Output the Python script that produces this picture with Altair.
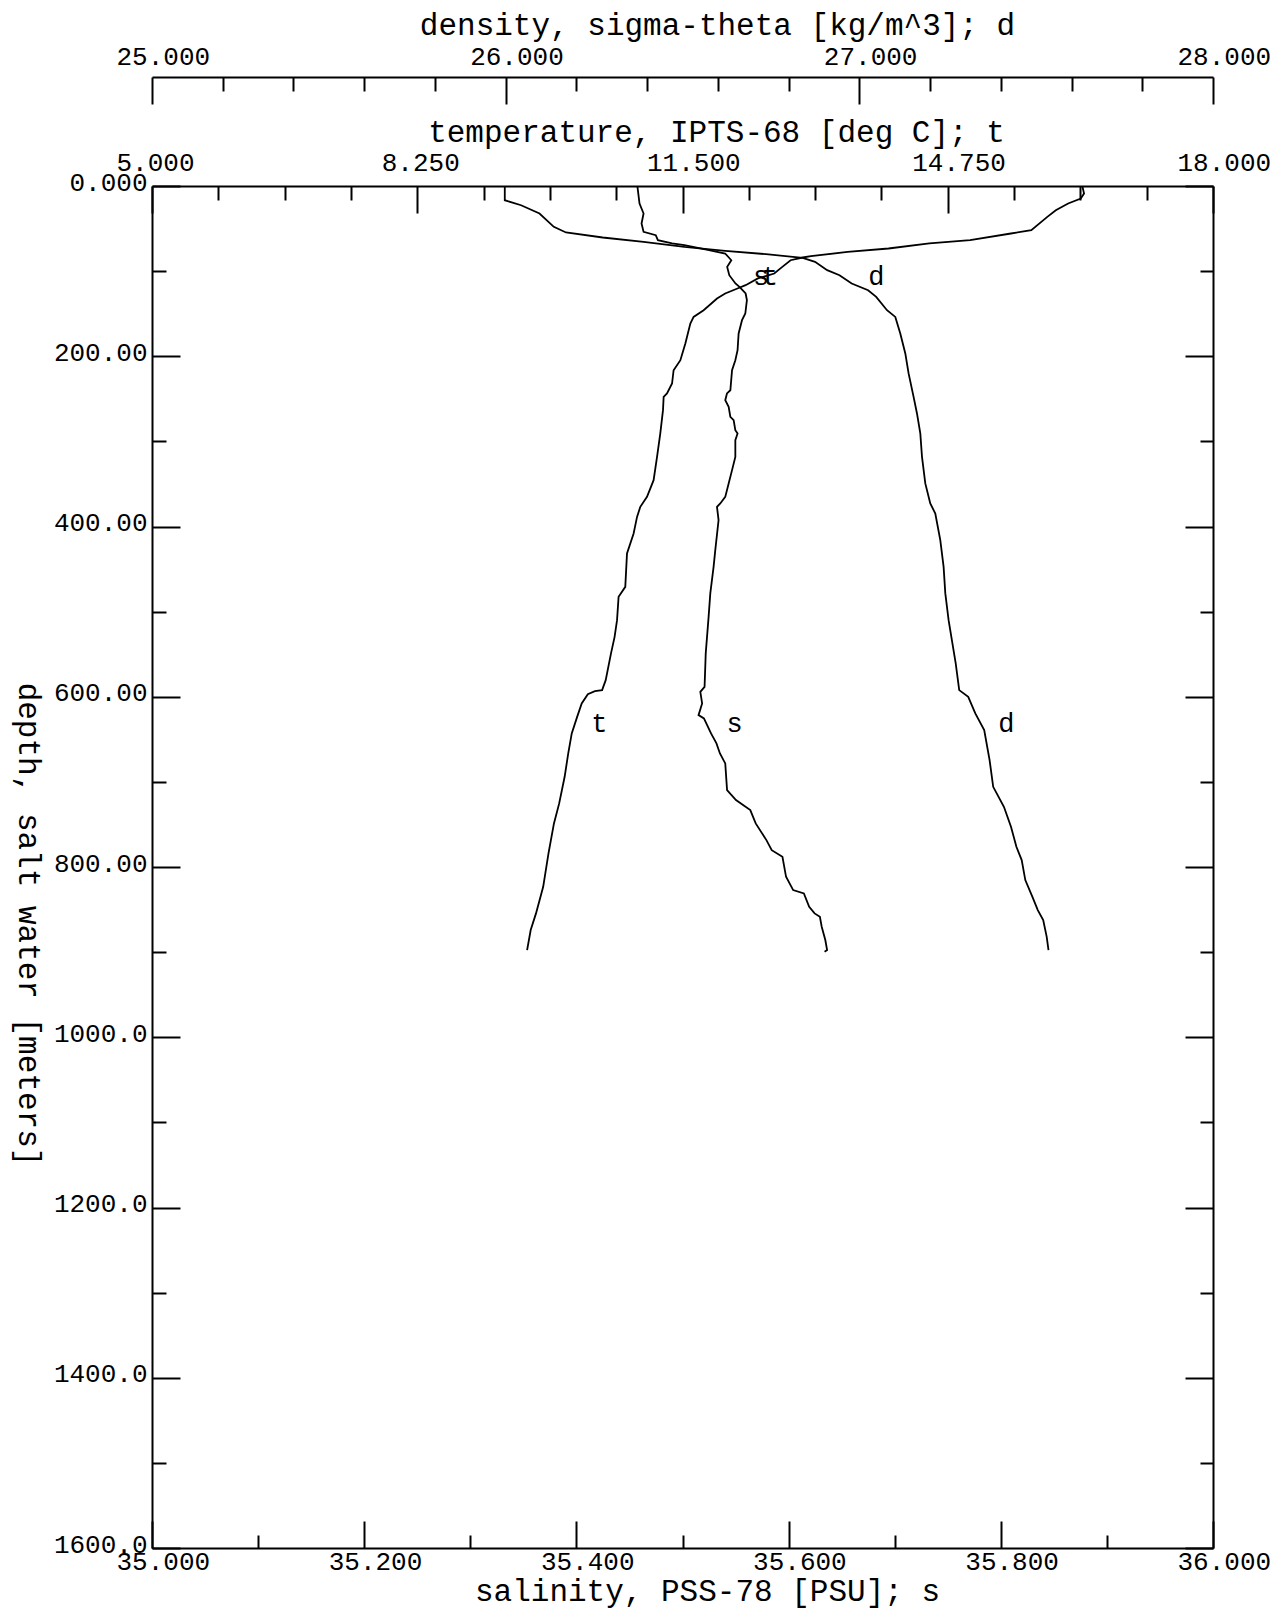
import altair as alt
import pandas as pd

FONT = "Liberation Mono"

# ---------------- profile data ----------------
# temperature, IPTS-68 [deg C]
T_DEPTH = [0.5, 8.8, 14.7, 20.6, 28.4, 36.3, 51.9, 55.8, 63.7, 67.5, 73.4, 77.4, 82.5, 84.0, 87.2,
           95.0, 102.8, 108.6, 116.5, 120.4, 126.3, 132.1, 145.9, 153.8, 161.5, 185.0, 204.6, 216.4,
           232.0, 243.7, 247.7, 263.3, 290.7, 318.2, 345.6, 365.2, 376.9, 388.7, 408.2, 431.7, 470.9,
           482.6, 510.0, 529.6, 549.1, 580.5, 592.2, 593.4, 597.0, 607.8, 623.6, 643.1, 666.6, 694.0,
           725.3, 748.8, 784.0, 823.3, 854.5, 874.1, 897.6]
T_VAL = [16.40, 16.42, 16.38, 16.225, 16.074, 15.97, 15.774, 15.524, 15.024, 14.524, 14.024, 13.523,
         13.074, 12.973, 12.824, 12.723, 12.624, 12.424, 12.273, 12.173, 12.023, 11.923, 11.759, 11.636,
         11.596, 11.535, 11.474, 11.391, 11.372, 11.310, 11.269, 11.261, 11.228, 11.188, 11.146, 11.065,
         10.983, 10.943, 10.901, 10.820, 10.799, 10.717, 10.698, 10.668, 10.624, 10.559, 10.515, 10.427,
         10.340, 10.265, 10.209, 10.143, 10.100, 10.056, 9.989, 9.925, 9.858, 9.793, 9.705, 9.640, 9.596]

# salinity, PSS-78 [PSU]
S_DEPTH = [0.5, 20.6, 32.3, 44.0, 53.9, 57.8, 63.7, 67.5, 69.5, 75.4, 79.3, 87.2, 95.0, 104.8, 114.5,
           118.5, 126.3, 134.1, 149.8, 157.6, 173.2, 192.9, 204.6, 216.4, 239.9, 243.7, 251.6, 259.5,
           271.2, 275.1, 286.8, 290.7, 298.6, 318.2, 333.8, 349.4, 365.2, 372.9, 376.9, 392.5, 427.8,
           447.4, 478.6, 506.1, 549.1, 588.3, 594.2, 607.8, 621.6, 625.5, 643.1, 654.8, 666.6, 678.3,
           709.7, 721.4, 733.2, 748.8, 768.4, 780.2, 788.0, 811.5, 827.1, 831.0, 846.8, 854.5, 858.5,
           870.2, 885.8, 897.6, 899.6]
S_VAL = [35.4575, 35.4595, 35.4633, 35.4614, 35.4633, 35.4748, 35.4768, 35.4902, 35.5018, 35.5249,
         35.5402, 35.5460, 35.5421, 35.5441, 35.5499, 35.5537, 35.5595, 35.5607, 35.5592, 35.5561,
         35.5529, 35.5519, 35.5498, 35.5467, 35.5451, 35.5419, 35.5403, 35.5435, 35.5451, 35.5482,
         35.5498, 35.5519, 35.5498, 35.5498, 35.5467, 35.5435, 35.5403, 35.5356, 35.5325, 35.5340,
         35.5309, 35.5293, 35.5262, 35.5246, 35.5219, 35.5208, 35.5168, 35.5185, 35.5151, 35.5202,
         35.5269, 35.5320, 35.5353, 35.5403, 35.5420, 35.5504, 35.5639, 35.5690, 35.5791, 35.5841,
         35.5942, 35.5976, 35.6043, 35.6144, 35.6194, 35.6245, 35.6295, 35.6312, 35.6346, 35.6363,
         35.6339]

# density, sigma-theta [kg/m^3]
D_DEPTH = [0.5, 16.7, 22.6, 32.3, 48.0, 54.6, 60.5, 65.7, 71.5, 76.2, 80.1, 84.5, 89.1, 98.9, 104.8,
           114.5, 122.4, 130.3, 145.9, 153.8, 173.2, 196.7, 220.2, 247.7, 267.2, 290.7, 318.2, 349.4,
           372.9, 384.7, 416.0, 447.4, 478.6, 510.0, 560.9, 592.2, 600.1, 619.6, 639.2, 674.4, 705.8,
           729.3, 752.8, 776.3, 791.9, 815.4, 835.0, 850.6, 862.4, 882.0, 897.6]
D_VAL = [25.9975, 25.9975, 26.0436, 26.0957, 26.1361, 26.1706, 26.2744, 26.3900, 26.5054, 26.6207,
         26.7361, 26.8399, 26.8747, 26.9091, 26.9439, 26.9784, 27.0248, 27.0477, 27.0782, 27.1017,
         27.1158, 27.1300, 27.1393, 27.1534, 27.1630, 27.1724, 27.1772, 27.1865, 27.2006, 27.2148,
         27.2289, 27.2383, 27.2431, 27.2524, 27.2725, 27.2824, 27.3079, 27.3279, 27.3531, 27.3683,
         27.3785, 27.4088, 27.4288, 27.4441, 27.4591, 27.4693, 27.4894, 27.5046, 27.5199, 27.5298,
         27.5349]

# curve letters (value, depth)
T_MARK_VAL = [12.57, 10.48]
S_MARK_VAL = [35.574, 35.549]
D_MARK_VAL = [27.048, 27.4155]
MARK_DEPTH = [106.5, 632.0]

# ---------------- axes: ticks and labels ----------------
SAL_TICKS = [35.0, 35.1, 35.2, 35.3, 35.4, 35.5, 35.6, 35.7, 35.8, 35.9, 36.0]
SAL_MAJOR = [35.0, 35.2, 35.4, 35.6, 35.8, 36.0]
SAL_LABELS = ["35.000", "35.200", "35.400", "35.600", "35.800", "36.000"]

TEMP_TICKS = [5.0, 5.8125, 6.625, 7.4375, 8.25, 9.0625, 9.875, 10.6875, 11.5, 12.3125, 13.125,
              13.9375, 14.75, 15.5625, 16.375, 17.1875, 18.0]
TEMP_MAJOR = [5.0, 8.25, 11.5, 14.75, 18.0]
TEMP_LABELS = ["5.000", "8.250", "11.500", "14.750", "18.000"]

DENS_TICKS = [25.0, 25.2, 25.4, 25.6, 25.8, 26.0, 26.2, 26.4, 26.6, 26.8, 27.0, 27.2, 27.4, 27.6,
              27.8, 28.0]
DENS_MAJOR = [25.0, 26.0, 27.0, 28.0]
DENS_LABELS = ["25.000", "26.000", "27.000", "28.000"]

DEPTH_TICKS = [0, 100, 200, 300, 400, 500, 600, 700, 800, 900, 1000, 1100, 1200, 1300, 1400, 1500, 1600]
DEPTH_MAJOR = [0, 200, 400, 600, 800, 1000, 1200, 1400, 1600]
DEPTH_LABELS = ["0.000", "200.00", "400.00", "600.00", "800.00", "1000.0", "1200.0", "1400.0", "1600.0"]


def major_test(majors):
    return " || ".join(f"abs(datum.value - ({v})) < 1e-6" for v in majors)


def tick_size(majors, major_len, minor_len):
    return {"expr": f"({major_test(majors)}) ? {-major_len} : {-minor_len}"}


def label_expr(majors, labels):
    e = "''"
    for v, l in reversed(list(zip(majors, labels))):
        e = f"abs(datum.value - ({v})) < 1e-6 ? '{l}' : ({e})"
    return e


COMMON = dict(
    labelFont=FONT, labelFontSize=26, labelColor="black", labelOverlap=False, labelFlush=False,
    domainColor="black", domainWidth=2, tickColor="black", tickWidth=2, grid=False,
    titleFont=FONT, titleFontSize=31, titleFontWeight="normal", titleColor="black",
)

sal_axis = alt.Axis(
    orient="bottom", values=SAL_TICKS, labelExpr=label_expr(SAL_MAJOR, SAL_LABELS),
    tickSize=tick_size(SAL_MAJOR, 27, 13), labelPadding=40, labelAlign="left", labelOffset=-36,
    labelBaseline="middle", title="salinity, PSS-78 [PSU]; s", titleX=555, titleY=43,
    titleAlign="center", titleBaseline="middle", **COMMON)

temp_axis = alt.Axis(
    orient="top", values=TEMP_TICKS, labelExpr=label_expr(TEMP_MAJOR, TEMP_LABELS),
    tickSize=tick_size(TEMP_MAJOR, 27, 14), labelPadding=51, labelAlign="left", labelOffset=-36,
    labelBaseline="middle", title="temperature, IPTS-68 [deg C]; t", titleX=564, titleY=-54,
    titleAlign="center", titleBaseline="middle", **COMMON)

dens_axis = alt.Axis(
    orient="top", offset=109, values=DENS_TICKS, labelExpr=label_expr(DENS_MAJOR, DENS_LABELS),
    tickSize=tick_size(DENS_MAJOR, 27, 14), labelPadding=48, labelAlign="left", labelOffset=-36,
    labelBaseline="middle", title="density, sigma-theta [kg/m^3]; d", titleX=565, titleY=-52,
    titleAlign="center", titleBaseline="middle", **COMMON)

depth_axis_left = alt.Axis(
    orient="left", values=DEPTH_TICKS, labelExpr=label_expr(DEPTH_MAJOR, DEPTH_LABELS),
    tickSize=tick_size(DEPTH_MAJOR, 28, 14), labelPadding=33, labelAlign="right", labelOffset=-4,
    labelBaseline="middle", title="depth, salt water [meters]", titleAngle=90, titleX=-134,
    titleY=738, titleAlign="center", titleBaseline="alphabetic", **COMMON)

depth_axis_right = alt.Axis(
    orient="right", values=DEPTH_TICKS, labels=False, title=None,
    tickSize=tick_size(DEPTH_MAJOR, 28, 13), domainColor="black", domainWidth=2,
    tickColor="black", tickWidth=2, grid=False)

DEPTH_SCALE = alt.Scale(domain=[0, 1600], reverse=True, nice=False, zero=False)


def profile_layer(depth, vals, mark_vals, letter, domain, x_axis, y_axis):
    df = pd.DataFrame({"i": list(range(len(depth))), "depth": depth, "value": vals})
    lab = pd.DataFrame({"depth": MARK_DEPTH, "value": mark_vals, "txt": [letter] * len(mark_vals)})
    xs = alt.Scale(domain=domain, nice=False, zero=False)
    line = alt.Chart(df).mark_line(color="black", strokeWidth=1.8).encode(
        x=alt.X("value:Q", scale=xs, axis=x_axis),
        y=alt.Y("depth:Q", scale=DEPTH_SCALE, axis=y_axis),
        order=alt.Order("i:Q"),
    )
    text = alt.Chart(lab).mark_text(font=FONT, fontSize=27, color="black",
                                    align="center", baseline="middle").encode(
        x=alt.X("value:Q", scale=xs, axis=x_axis),
        y=alt.Y("depth:Q", scale=DEPTH_SCALE, axis=y_axis),
        text="txt:N",
    )
    return alt.layer(line, text)


layer_s = profile_layer(S_DEPTH, S_VAL, S_MARK_VAL, "s", [35, 36], sal_axis, depth_axis_left)
layer_t = profile_layer(T_DEPTH, T_VAL, T_MARK_VAL, "t", [5, 18], temp_axis, depth_axis_right)
layer_d = profile_layer(D_DEPTH, D_VAL, D_MARK_VAL, "d", [25, 28], dens_axis, None)

chart = alt.layer(layer_s, layer_t, layer_d).resolve_scale(
    x="independent", y="independent"
).properties(
    width=1061, height=1362, autosize="none",
    padding={"left": 144, "top": 178, "right": 60, "bottom": 62},
    background="white",
).configure_view(stroke=None)

chart.save("out.html", embed_options={"renderer": "svg", "actions": False})
